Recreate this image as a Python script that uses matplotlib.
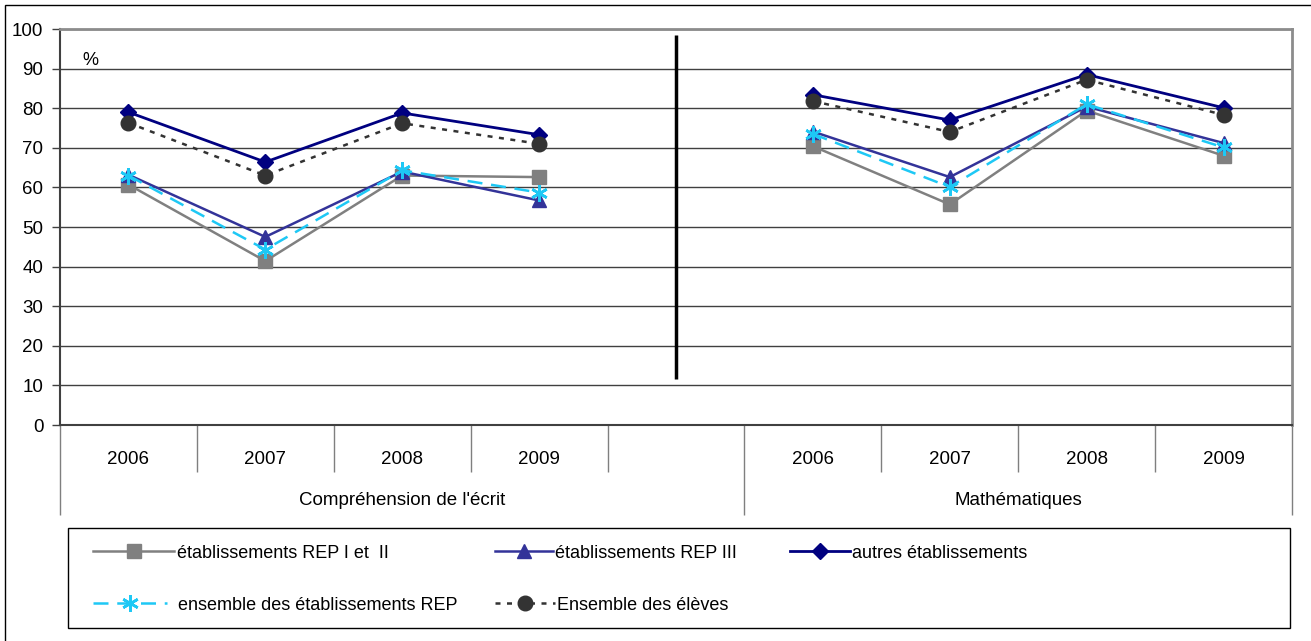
import numpy as np
import matplotlib
matplotlib.use("Agg")
import matplotlib.pyplot as plt
from matplotlib.patches import Rectangle

plt.rcParams['font.family'] = ['Liberation Sans', 'DejaVu Sans']

# data (%)
years = ['2006', '2007', '2008', '2009']
subjects = ["Compréhension de l'écrit", 'Mathématiques']

rep12_ecrit = [60.7, 41.4, 63.0, 62.6]
rep12_maths = [70.4, 55.7, 79.4, 68.0]
rep3_ecrit = [63.2, 47.5, 64.0, 56.7]
rep3_maths = [74.1, 62.6, 80.4, 71.2]
autres_ecrit = [79.0, 66.4, 78.8, 73.3]
autres_maths = [83.4, 77.0, 88.5, 80.1]
ensrep_ecrit = [63.0, 44.3, 64.3, 58.7]
ensrep_maths = [73.5, 60.1, 81.0, 70.1]
eleves_ecrit = [76.3, 63.0, 76.2, 71.0]
eleves_maths = [81.8, 74.0, 87.2, 78.3]

labels = ['établissements REP I et  II', 'établissements REP III', 'autres établissements',
          'ensemble des établissements REP', 'Ensemble des élèves']

# 9 category slots: 4 years, one empty slot, 4 years
x_pos = np.arange(9)


def join(a, b):
    return np.array(a + [np.nan] + b, dtype=float)


W, H = 1311, 641
fig = plt.figure(figsize=(W / 100, H / 100), dpi=100)
ax = fig.add_axes([60 / W, 1 - 425 / H, (1292 - 60) / W, (425 - 29) / H])

h1, = ax.plot(x_pos, join(rep12_ecrit, rep12_maths), color='#808080', marker='s',
              markeredgecolor='#808080', linewidth=1.8, markersize=10)
h2, = ax.plot(x_pos, join(rep3_ecrit, rep3_maths), color='#333399', marker='^',
              markeredgecolor='#333399', linewidth=1.8, markersize=10.5)
h3, = ax.plot(x_pos, join(autres_ecrit, autres_maths), color='#000080', marker='D',
              markeredgecolor='#000080', linewidth=2.0, markersize=8.5)
h4, = ax.plot(x_pos, join(ensrep_ecrit, ensrep_maths), color='#1ec8f5', marker=(6, 2, 0),
              markeredgewidth=1.9, linestyle=(0, (6, 3.5)), linewidth=1.8, markersize=12)
h5, = ax.plot(x_pos, join(eleves_ecrit, eleves_maths), color='#333333', marker='o',
              markeredgecolor='#333333', linestyle=(0, (2, 2.6)), linewidth=1.8, markersize=10.5)

# separator line between the two subjects
ax.plot([4, 4], [11.6, 98.5], color='black', linewidth=2.5, solid_capstyle='butt')

ax.set_xlim(-0.5, 8.5)
ax.set_ylim(0, 100)
ax.set_yticks(range(0, 101, 10))
ax.yaxis.grid(True, color='#404040', linewidth=1)
ax.set_axisbelow(True)
ax.tick_params(axis='y', labelsize=13.5, length=6, width=1, color='#404040', pad=6)

# category axis: cell borders as ticks, labels as text
ax.set_xticks([-0.5, 4.5, 8.5])
ax.set_xticks([0.5, 1.5, 2.5, 3.5, 5.5, 6.5, 7.5], minor=True)
ax.tick_params(axis='x', which='major', length=65, width=1, color='#7f7f7f', labelbottom=False)
ax.tick_params(axis='x', which='minor', length=34, width=1, color='#7f7f7f', labelbottom=False)

xt = ax.get_xaxis_transform()
for start in (0, 5):
    for i, yr in enumerate(years):
        ax.text(start + i, -0.088, yr, transform=xt, ha='center', va='center', fontsize=13.5)
ax.text(2.0, -0.19, subjects[0], transform=xt, ha='center', va='center', fontsize=13.5)
ax.text(6.5, -0.19, subjects[1], transform=xt, ha='center', va='center', fontsize=13.5)

ax.text(0.018, 0.92, '%', transform=ax.transAxes, ha='left', va='center', fontsize=13)

for side in ('left', 'bottom'):
    ax.spines[side].set_color('#404040')
    ax.spines[side].set_linewidth(1.5)
for side in ('top', 'right'):
    ax.spines[side].set_color('#8c8c8c')
    ax.spines[side].set_linewidth(2)

# legend box and entries
fig.patches.append(Rectangle((68 / W, 1 - 628 / H), (1290 - 68) / W, 100 / H,
                             transform=fig.transFigure, fill=False, edgecolor='black',
                             linewidth=1))
entries = [(h1, labels[0], 93, 553, 4.5, 0.15),
           (h2, labels[1], 495, 553, 3.2, 0.15),
           (h3, labels[2], 790, 553, 3.3, 0.15),
           (h4, labels[3], 93, 605, 4.1, 0.6),
           (h5, labels[4], 495, 605, 3.3, 0.15)]
for h, lab, px, py, hl, tp in entries:
    fig.legend(handles=[h], labels=[lab], loc='center left',
               bbox_to_anchor=(px / W, 1 - py / H), frameon=False, borderpad=0,
               borderaxespad=0, handlelength=hl, handletextpad=tp, fontsize=13)

# outer frame (cut at right and bottom like the reference)
fig.patches.append(Rectangle((5 / W, -0.1), 1.2, 1.1 - 5 / H, transform=fig.transFigure,
                             fill=False, edgecolor='black', linewidth=1))

fig.savefig('out.png', dpi=100)
